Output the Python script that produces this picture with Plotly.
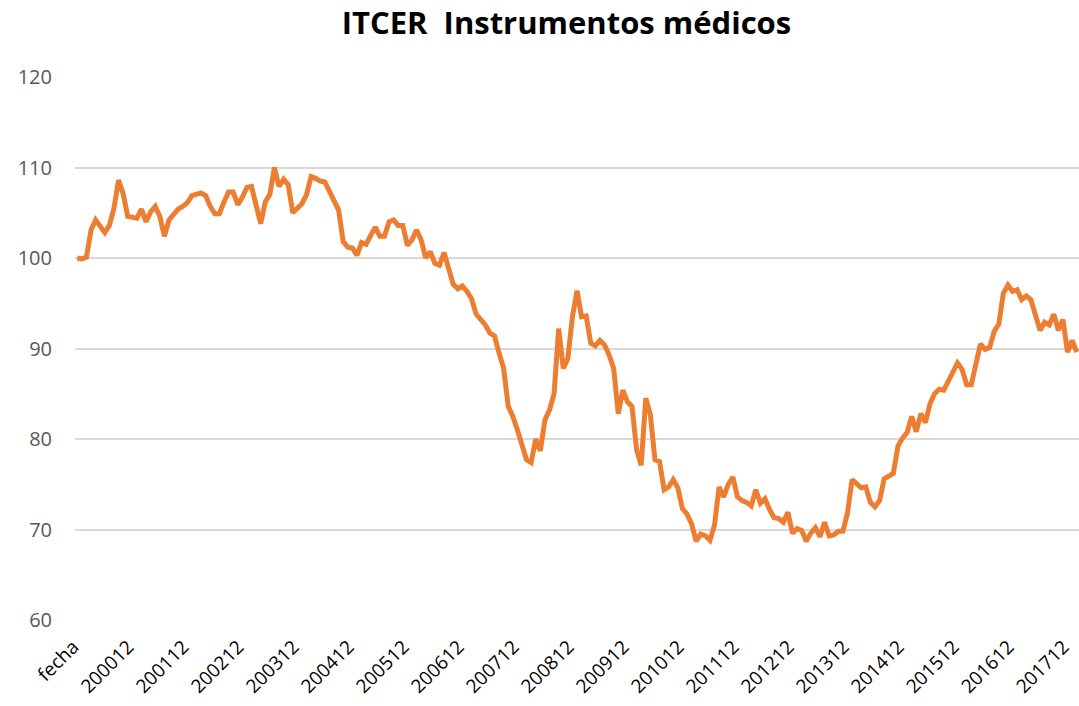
import plotly.graph_objects as go

# Category labels: header row "fecha" followed by monthly codes 200001..201802
years = list(range(2000, 2019))
months = list(range(1, 13))
categories = ["fecha"] + [f"{y}{m:02d}" for y in years for m in months][:218]

# Series values, grouped by period
vals_a = [100.0, 99.9, 100.1, 103.1, 104.2, 103.5, 102.8, 103.6, 105.5, 108.6, 107.1, 104.6,
          104.5, 104.4, 105.4, 104.0, 105.1, 105.7, 104.6, 102.4, 104.2, 104.9, 105.4, 105.7,
          106.1, 106.9, 107.0, 107.2, 106.9, 105.7, 104.9, 104.9, 106.2, 107.3, 107.3, 105.9,
          106.7, 107.8, 107.9, 105.9, 103.8, 106.2, 107.0, 110.0, 107.9, 108.7, 108.1, 105.0]
vals_b = [105.6, 106.0, 107.0, 109.0, 108.8, 108.5, 108.4, 107.3, 106.2, 105.3, 101.8, 101.2,
          101.1, 100.3, 101.7, 101.5, 102.5, 103.4, 102.4, 102.4, 104.0, 104.2, 103.6, 103.6,
          101.4, 102.0, 103.1, 102.0, 100.0, 100.7, 99.4, 99.2, 100.6, 98.9, 97.1, 96.6,
          96.9, 96.3, 95.5, 93.8, 93.2, 92.6, 91.7, 91.4, 89.5, 87.8, 83.6, 82.5]
vals_c = [81.0, 79.3, 77.7, 77.4, 80.0, 78.7, 82.1, 83.2, 85.0, 92.2, 87.8, 88.9,
          93.5, 96.4, 93.5, 93.6, 90.6, 90.3, 90.9, 90.4, 89.3, 87.8, 82.8, 85.4,
          84.1, 83.6, 78.8, 77.1, 84.5, 82.7, 77.7, 77.5, 74.4, 74.7, 75.5, 74.6,
          72.3, 71.7, 70.6, 68.7, 69.5, 69.3, 68.8, 70.5, 74.7, 73.6, 75.0, 75.8]
vals_d = [73.6, 73.2, 73.0, 72.6, 74.4, 72.9, 73.4, 72.2, 71.3, 71.2, 70.8, 71.9,
          69.6, 70.1, 69.9, 68.7, 69.6, 70.2, 69.2, 70.8, 69.3, 69.4, 69.8, 69.8,
          71.8, 75.5, 75.1, 74.6, 74.7, 73.0, 72.5, 73.2, 75.6, 75.9, 76.2, 79.2,
          80.1, 80.7, 82.5, 80.8, 82.8, 81.8, 83.9, 85.0, 85.5, 85.4, 86.5, 87.5]
vals_e = [88.4, 87.7, 86.0, 86.0, 88.0, 90.5, 89.9, 90.1, 91.9, 92.7, 96.1, 97.0,
          96.3, 96.5, 95.4, 95.8, 95.4, 93.9, 92.0, 92.9, 92.6, 93.8, 92.0, 93.2,
          89.6, 90.9, 89.6]
values = vals_a + vals_b + vals_c + vals_d + vals_e

tick_labels = categories[::12]

y_ticks = [60, 70, 80, 90, 100, 110, 120]

fig = go.Figure()
fig.add_trace(go.Scatter(
    x=categories, y=values, mode="lines",
    line=dict(color="#ED7D31", width=5, shape="linear"),
    name="ITCER  Instrumentos médicos",
    showlegend=False,
))

fig.update_layout(
    width=1079, height=706,
    paper_bgcolor="white", plot_bgcolor="white",
    margin=dict(l=75, r=0, t=77, b=86, autoexpand=False),
    title=dict(
        text="<b>ITCER\u00a0 Instrumentos médicos</b>",
        x=0.525, xanchor="center", y=1 - 23 / 706, yanchor="middle", yref="container",
        font=dict(family="Open Sans", size=31, color="black"),
    ),
    font=dict(family="Open Sans"),
)
fig.update_xaxes(
    type="category",
    categoryorder="array", categoryarray=categories,
    range=[-0.5, len(categories) - 0.5],
    tickmode="array", tickvals=tick_labels, ticktext=tick_labels,
    tickangle=-45,
    tickfont=dict(family="Open Sans", size=19, color="#000000"),
    showgrid=False, showline=False, zeroline=False, ticks="",
    ticklabelstandoff=11, ticklabelshift=-4,
    automargin=False,
)
fig.update_yaxes(
    range=[60, 120],
    tickmode="array", tickvals=y_ticks,
    tickfont=dict(family="Open Sans", size=20, color="#595959"),
    showgrid=True, gridcolor="#D9D9D9", gridwidth=1.5,
    showline=False, zeroline=False, ticks="",
    ticklabelstandoff=22, automargin=False,
)

fig.write_html("out.html", config={"displayModeBar": False},
               post_script="document.body.style.margin='0px';")
